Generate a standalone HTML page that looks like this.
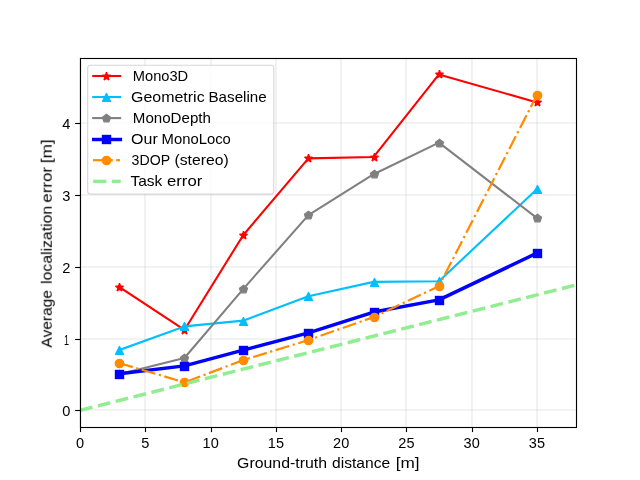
<!DOCTYPE html>
<html><head><meta charset="utf-8"><title>chart</title><style>html,body{margin:0;padding:0;background:#fff;width:640px;height:480px;overflow:hidden}</style></head><body>
<svg width="640" height="480" viewBox="0 0 640 480" style="display:block;font-family:'Liberation Sans',sans-serif">
<style>text{fill:#000;filter:url(#gs)}</style>
<rect width="640" height="480" fill="#fff"/>
<defs><filter id="gs" x="-10%" y="-20%" width="120%" height="140%" color-interpolation-filters="sRGB"><feColorMatrix type="saturate" values="0"/></filter><clipPath id="c"><rect x="80.00" y="57.60" width="496.00" height="369.60"/></clipPath></defs>
<line x1="80.00" x2="80.00" y1="57.60" y2="427.20" stroke="#b0b0b0" stroke-opacity="0.3" stroke-width="1.11"/>
<line x1="145.00" x2="145.00" y1="57.60" y2="427.20" stroke="#b0b0b0" stroke-opacity="0.3" stroke-width="1.11"/>
<line x1="211.00" x2="211.00" y1="57.60" y2="427.20" stroke="#b0b0b0" stroke-opacity="0.3" stroke-width="1.11"/>
<line x1="276.00" x2="276.00" y1="57.60" y2="427.20" stroke="#b0b0b0" stroke-opacity="0.3" stroke-width="1.11"/>
<line x1="341.00" x2="341.00" y1="57.60" y2="427.20" stroke="#b0b0b0" stroke-opacity="0.3" stroke-width="1.11"/>
<line x1="406.00" x2="406.00" y1="57.60" y2="427.20" stroke="#b0b0b0" stroke-opacity="0.3" stroke-width="1.11"/>
<line x1="472.00" x2="472.00" y1="57.60" y2="427.20" stroke="#b0b0b0" stroke-opacity="0.3" stroke-width="1.11"/>
<line x1="537.00" x2="537.00" y1="57.60" y2="427.20" stroke="#b0b0b0" stroke-opacity="0.3" stroke-width="1.11"/>
<line x1="80.00" x2="576.00" y1="410.00" y2="410.00" stroke="#b0b0b0" stroke-opacity="0.3" stroke-width="1.11"/>
<line x1="80.00" x2="576.00" y1="339.00" y2="339.00" stroke="#b0b0b0" stroke-opacity="0.3" stroke-width="1.11"/>
<line x1="80.00" x2="576.00" y1="267.00" y2="267.00" stroke="#b0b0b0" stroke-opacity="0.3" stroke-width="1.11"/>
<line x1="80.00" x2="576.00" y1="195.00" y2="195.00" stroke="#b0b0b0" stroke-opacity="0.3" stroke-width="1.11"/>
<line x1="80.00" x2="576.00" y1="123.00" y2="123.00" stroke="#b0b0b0" stroke-opacity="0.3" stroke-width="1.11"/>
<g clip-path="url(#c)">
<polyline points="119.16,286.91 184.42,329.99 243.16,235.22 308.42,158.40 373.68,156.96 438.95,74.40 536.84,102.40" fill="none" stroke="#ff0000" stroke-width="2.08" stroke-linejoin="round" stroke-linecap="square"/>
<polygon points="119.50,283.33 118.56,286.21 115.54,286.21 117.99,287.99 117.05,290.87 119.50,289.09 121.95,290.87 121.01,287.99 123.46,286.21 120.44,286.21" fill="#ff0000" stroke="#ff0000" stroke-width="1.39" stroke-linejoin="bevel"/>
<polygon points="184.50,326.33 183.56,329.21 180.54,329.21 182.99,330.99 182.05,333.87 184.50,332.09 186.95,333.87 186.01,330.99 188.46,329.21 185.44,329.21" fill="#ff0000" stroke="#ff0000" stroke-width="1.39" stroke-linejoin="bevel"/>
<polygon points="243.50,231.33 242.56,234.21 239.54,234.21 241.99,235.99 241.05,238.87 243.50,237.09 245.95,238.87 245.01,235.99 247.46,234.21 244.44,234.21" fill="#ff0000" stroke="#ff0000" stroke-width="1.39" stroke-linejoin="bevel"/>
<polygon points="308.50,154.33 307.56,157.21 304.54,157.21 306.99,158.99 306.05,161.87 308.50,160.09 310.95,161.87 310.01,158.99 312.46,157.21 309.44,157.21" fill="#ff0000" stroke="#ff0000" stroke-width="1.39" stroke-linejoin="bevel"/>
<polygon points="374.50,153.33 373.56,156.21 370.54,156.21 372.99,157.99 372.05,160.87 374.50,159.09 376.95,160.87 376.01,157.99 378.46,156.21 375.44,156.21" fill="#ff0000" stroke="#ff0000" stroke-width="1.39" stroke-linejoin="bevel"/>
<polygon points="439.50,70.33 438.56,73.21 435.54,73.21 437.99,74.99 437.05,77.87 439.50,76.09 441.95,77.87 441.01,74.99 443.46,73.21 440.44,73.21" fill="#ff0000" stroke="#ff0000" stroke-width="1.39" stroke-linejoin="bevel"/>
<polygon points="537.50,98.33 536.56,101.21 533.54,101.21 535.99,102.99 535.05,105.87 537.50,104.09 539.95,105.87 539.01,102.99 541.46,101.21 538.44,101.21" fill="#ff0000" stroke="#ff0000" stroke-width="1.39" stroke-linejoin="bevel"/>
<polyline points="119.16,350.09 184.42,326.40 243.16,320.66 308.42,296.25 373.68,281.89 438.95,281.17 536.84,189.27" fill="none" stroke="#00bfff" stroke-width="2.08" stroke-linejoin="round" stroke-linecap="square"/>
<polygon points="119.50,346.58 115.58,354.42 123.42,354.42" fill="#00bfff" stroke="#00bfff" stroke-width="1.39" stroke-linejoin="round"/>
<polygon points="184.50,322.58 180.58,330.42 188.42,330.42" fill="#00bfff" stroke="#00bfff" stroke-width="1.39" stroke-linejoin="round"/>
<polygon points="243.50,317.58 239.58,325.42 247.42,325.42" fill="#00bfff" stroke="#00bfff" stroke-width="1.39" stroke-linejoin="round"/>
<polygon points="308.50,292.58 304.58,300.42 312.42,300.42" fill="#00bfff" stroke="#00bfff" stroke-width="1.39" stroke-linejoin="round"/>
<polygon points="374.50,278.58 370.58,286.42 378.42,286.42" fill="#00bfff" stroke="#00bfff" stroke-width="1.39" stroke-linejoin="round"/>
<polygon points="439.50,277.58 435.58,285.42 443.42,285.42" fill="#00bfff" stroke="#00bfff" stroke-width="1.39" stroke-linejoin="round"/>
<polygon points="537.50,185.58 533.58,193.42 541.42,193.42" fill="#00bfff" stroke="#00bfff" stroke-width="1.39" stroke-linejoin="round"/>
<polyline points="119.16,374.14 184.42,357.99 243.16,289.07 308.42,215.12 373.68,174.19 438.95,142.61 536.84,217.99" fill="none" stroke="#808080" stroke-width="2.08" stroke-linejoin="round" stroke-linecap="square"/>
<polygon points="119.50,370.33 115.54,373.21 117.05,377.87 121.95,377.87 123.46,373.21" fill="#808080" stroke="#808080" stroke-width="1.39" stroke-linejoin="round"/>
<polygon points="184.50,354.33 180.54,357.21 182.05,361.87 186.95,361.87 188.46,357.21" fill="#808080" stroke="#808080" stroke-width="1.39" stroke-linejoin="round"/>
<polygon points="243.50,285.33 239.54,288.21 241.05,292.87 245.95,292.87 247.46,288.21" fill="#808080" stroke="#808080" stroke-width="1.39" stroke-linejoin="round"/>
<polygon points="308.50,211.33 304.54,214.21 306.05,218.87 310.95,218.87 312.46,214.21" fill="#808080" stroke="#808080" stroke-width="1.39" stroke-linejoin="round"/>
<polygon points="374.50,170.33 370.54,173.21 372.05,177.87 376.95,177.87 378.46,173.21" fill="#808080" stroke="#808080" stroke-width="1.39" stroke-linejoin="round"/>
<polygon points="439.50,139.33 435.54,142.21 437.05,146.87 441.95,146.87 443.46,142.21" fill="#808080" stroke="#808080" stroke-width="1.39" stroke-linejoin="round"/>
<polygon points="537.50,214.33 533.54,217.21 535.05,221.87 539.95,221.87 541.46,217.21" fill="#808080" stroke="#808080" stroke-width="1.39" stroke-linejoin="round"/>
<polyline points="119.16,373.78 184.42,365.89 243.16,350.09 308.42,332.86 373.68,312.04 438.95,299.84 536.84,253.17" fill="none" stroke="#0000ff" stroke-width="3.47" stroke-linejoin="round" stroke-linecap="square"/>
<rect x="115.50" y="370.50" width="8.00" height="8.00" fill="#0000ff" stroke="#0000ff" stroke-width="1.39" stroke-linejoin="miter"/>
<rect x="180.50" y="362.50" width="8.00" height="8.00" fill="#0000ff" stroke="#0000ff" stroke-width="1.39" stroke-linejoin="miter"/>
<rect x="239.50" y="346.50" width="8.00" height="8.00" fill="#0000ff" stroke="#0000ff" stroke-width="1.39" stroke-linejoin="miter"/>
<rect x="304.50" y="329.50" width="8.00" height="8.00" fill="#0000ff" stroke="#0000ff" stroke-width="1.39" stroke-linejoin="miter"/>
<rect x="370.50" y="308.50" width="8.00" height="8.00" fill="#0000ff" stroke="#0000ff" stroke-width="1.39" stroke-linejoin="miter"/>
<rect x="435.50" y="296.50" width="8.00" height="8.00" fill="#0000ff" stroke="#0000ff" stroke-width="1.39" stroke-linejoin="miter"/>
<rect x="533.50" y="249.50" width="8.00" height="8.00" fill="#0000ff" stroke="#0000ff" stroke-width="1.39" stroke-linejoin="miter"/>
<polyline points="119.16,363.02 184.42,382.40 243.16,360.14 308.42,340.04 373.68,317.07 438.95,286.19 536.84,95.22" fill="none" stroke="#ff8c00" stroke-width="2.22" stroke-linejoin="round" stroke-linecap="butt" stroke-dasharray="14.22 3.56 2.22 3.56"/>
<circle cx="119.50" cy="363.50" r="4.17" fill="#ff8c00" stroke="#ff8c00" stroke-width="1.39" stroke-linejoin="miter"/>
<circle cx="184.50" cy="382.50" r="4.17" fill="#ff8c00" stroke="#ff8c00" stroke-width="1.39" stroke-linejoin="miter"/>
<circle cx="243.50" cy="360.50" r="4.17" fill="#ff8c00" stroke="#ff8c00" stroke-width="1.39" stroke-linejoin="miter"/>
<circle cx="308.50" cy="340.50" r="4.17" fill="#ff8c00" stroke="#ff8c00" stroke-width="1.39" stroke-linejoin="miter"/>
<circle cx="374.50" cy="317.50" r="4.17" fill="#ff8c00" stroke="#ff8c00" stroke-width="1.39" stroke-linejoin="miter"/>
<circle cx="439.50" cy="286.50" r="4.17" fill="#ff8c00" stroke="#ff8c00" stroke-width="1.39" stroke-linejoin="miter"/>
<circle cx="537.50" cy="95.50" r="4.17" fill="#ff8c00" stroke="#ff8c00" stroke-width="1.39" stroke-linejoin="miter"/>
<line x1="80.00" y1="410.40" x2="602.11" y2="278.37" stroke="#90ee90" stroke-width="3.47" stroke-dasharray="12.85 5.56"/>
</g>
<rect x="80.50" y="58.50" width="496.00" height="369.00" fill="none" stroke="#000" stroke-width="1.11"/>
<line x1="80.50" x2="80.50" y1="427.20" y2="432.06" stroke="#000" stroke-width="1.11"/>
<text x="76.05" y="447.60" font-size="14.20" textLength="8.12" lengthAdjust="spacingAndGlyphs">0</text>
<line x1="145.50" x2="145.50" y1="427.20" y2="432.06" stroke="#000" stroke-width="1.11"/>
<text x="141.31" y="447.60" font-size="14.20" textLength="8.12" lengthAdjust="spacingAndGlyphs">5</text>
<line x1="211.50" x2="211.50" y1="427.20" y2="432.06" stroke="#000" stroke-width="1.11"/>
<text x="202.58" y="447.60" font-size="14.20" textLength="16.13" lengthAdjust="spacingAndGlyphs">10</text>
<line x1="276.50" x2="276.50" y1="427.20" y2="432.06" stroke="#000" stroke-width="1.11"/>
<text x="267.84" y="447.60" font-size="14.20" textLength="16.13" lengthAdjust="spacingAndGlyphs">15</text>
<line x1="341.50" x2="341.50" y1="427.20" y2="432.06" stroke="#000" stroke-width="1.11"/>
<text x="333.10" y="447.60" font-size="14.20" textLength="16.13" lengthAdjust="spacingAndGlyphs">20</text>
<line x1="406.50" x2="406.50" y1="427.20" y2="432.06" stroke="#000" stroke-width="1.11"/>
<text x="398.37" y="447.60" font-size="14.20" textLength="16.13" lengthAdjust="spacingAndGlyphs">25</text>
<line x1="472.50" x2="472.50" y1="427.20" y2="432.06" stroke="#000" stroke-width="1.11"/>
<text x="463.63" y="447.60" font-size="14.20" textLength="16.13" lengthAdjust="spacingAndGlyphs">30</text>
<line x1="537.50" x2="537.50" y1="427.20" y2="432.06" stroke="#000" stroke-width="1.11"/>
<text x="528.89" y="447.60" font-size="14.20" textLength="16.13" lengthAdjust="spacingAndGlyphs">35</text>
<line x1="75.14" x2="80.00" y1="410.50" y2="410.50" stroke="#000" stroke-width="1.11"/>
<text x="62.30" y="415.70" font-size="14.20" textLength="8.12" lengthAdjust="spacingAndGlyphs">0</text>
<line x1="75.14" x2="80.00" y1="339.50" y2="339.50" stroke="#000" stroke-width="1.11"/>
<text x="64.00" y="344.70" font-size="14.20" textLength="5.01" lengthAdjust="spacingAndGlyphs">1</text>
<line x1="75.14" x2="80.00" y1="267.50" y2="267.50" stroke="#000" stroke-width="1.11"/>
<text x="62.30" y="272.70" font-size="14.20" textLength="8.12" lengthAdjust="spacingAndGlyphs">2</text>
<line x1="75.14" x2="80.00" y1="195.50" y2="195.50" stroke="#000" stroke-width="1.11"/>
<text x="62.30" y="200.70" font-size="14.20" textLength="8.12" lengthAdjust="spacingAndGlyphs">3</text>
<line x1="75.14" x2="80.00" y1="123.50" y2="123.50" stroke="#000" stroke-width="1.11"/>
<text x="62.30" y="128.70" font-size="14.20" textLength="8.12" lengthAdjust="spacingAndGlyphs">4</text>
<text x="237.10" y="467.50" font-size="14.10" textLength="89.89" lengthAdjust="spacingAndGlyphs">Ground-truth</text><text x="332.10" y="467.50" font-size="14.10" textLength="58.10" lengthAdjust="spacingAndGlyphs">distance</text><text x="395.70" y="467.50" font-size="14.10" textLength="23.88" lengthAdjust="spacingAndGlyphs">[m]</text>
<g transform="translate(51.7,347.2) rotate(-90)"><text x="-0.40" y="0.00" font-size="14.10" textLength="57.43" lengthAdjust="spacingAndGlyphs">Average</text><text x="63.20" y="0.00" font-size="14.10" textLength="78.19" lengthAdjust="spacingAndGlyphs">localization</text><text x="144.60" y="0.00" font-size="14.10" textLength="35.52" lengthAdjust="spacingAndGlyphs">error</text><text x="184.00" y="0.00" font-size="14.10" textLength="23.88" lengthAdjust="spacingAndGlyphs">[m]</text></g>
<rect x="87.70" y="65.30" width="186.10" height="128.80" rx="2.8" fill="#fff" fill-opacity="0.8" stroke="#ccc" stroke-opacity="0.8" stroke-width="1.11"/>
<line x1="92.20" x2="121.20" y1="76.00" y2="76.00" stroke="#ff0000" stroke-width="2.08"/>
<polygon points="106.50,72.33 105.56,75.21 102.54,75.21 104.99,76.99 104.05,79.87 106.50,78.09 108.95,79.87 108.01,76.99 110.46,75.21 107.44,75.21" fill="#ff0000" stroke="#ff0000" stroke-width="1.39" stroke-linejoin="bevel"/>
<line x1="92.20" x2="121.20" y1="97.04" y2="97.04" stroke="#00bfff" stroke-width="2.08"/>
<polygon points="106.50,93.58 102.58,101.42 110.42,101.42" fill="#00bfff" stroke="#00bfff" stroke-width="1.39" stroke-linejoin="round"/>
<line x1="92.20" x2="121.20" y1="118.08" y2="118.08" stroke="#808080" stroke-width="2.08"/>
<polygon points="106.50,114.33 102.54,117.21 104.05,121.87 108.95,121.87 110.46,117.21" fill="#808080" stroke="#808080" stroke-width="1.39" stroke-linejoin="round"/>
<line x1="92.00" x2="122.10" y1="139.50" y2="139.50" stroke="#0000ff" stroke-width="3.47"/>
<rect x="102.50" y="135.50" width="8.00" height="8.00" fill="#0000ff" stroke="#0000ff" stroke-width="1.39" stroke-linejoin="miter"/>
<line x1="93.00" x2="112.80" y1="160.20" y2="160.20" stroke="#ff8c00" stroke-width="2.22"/>
<line x1="116.20" x2="120.00" y1="160.20" y2="160.20" stroke="#ff8c00" stroke-width="2.22"/>
<circle cx="106.50" cy="160.50" r="4.17" fill="#ff8c00" stroke="#ff8c00" stroke-width="1.39" stroke-linejoin="miter"/>
<line x1="93.15" x2="106.35" y1="181.40" y2="181.40" stroke="#90ee90" stroke-width="3.47"/>
<line x1="111.75" x2="120.75" y1="181.40" y2="181.40" stroke="#90ee90" stroke-width="3.47"/>
<text x="132.80" y="80.60" font-size="14.10" textLength="55.40" lengthAdjust="spacingAndGlyphs">Mono3D</text>
<text x="131.10" y="101.64" font-size="14.10" textLength="73.54" lengthAdjust="spacingAndGlyphs">Geometric</text><text x="208.50" y="101.64" font-size="14.10" textLength="58.22" lengthAdjust="spacingAndGlyphs">Baseline</text>
<text x="132.80" y="122.68" font-size="14.10" textLength="78.10" lengthAdjust="spacingAndGlyphs">MonoDepth</text>
<text x="131.10" y="143.72" font-size="14.10" textLength="26.63" lengthAdjust="spacingAndGlyphs">Our</text><text x="161.60" y="143.72" font-size="14.10" textLength="69.20" lengthAdjust="spacingAndGlyphs">MonoLoco</text>
<text x="131.60" y="164.76" font-size="14.10" textLength="38.47" lengthAdjust="spacingAndGlyphs">3DOP</text><text x="174.50" y="164.76" font-size="14.10" textLength="54.21" lengthAdjust="spacingAndGlyphs">(stereo)</text>
<text x="130.40" y="185.80" font-size="14.10" textLength="31.94" lengthAdjust="spacingAndGlyphs">Task</text><text x="167.00" y="185.80" font-size="14.10" textLength="35.22" lengthAdjust="spacingAndGlyphs">error</text>
</svg>
</body></html>
